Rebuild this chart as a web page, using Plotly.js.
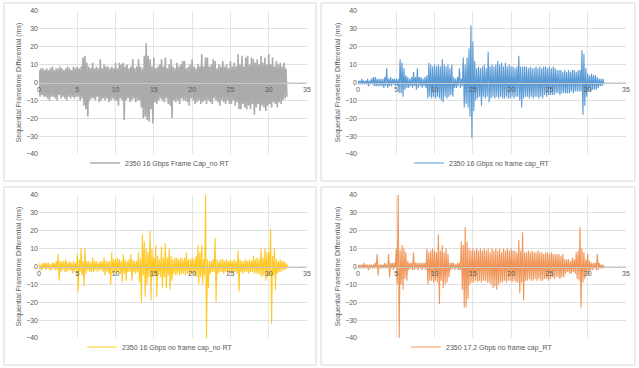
<!DOCTYPE html>
<html>
<head>
<meta charset="utf-8">
<script src="https://cdn.plot.ly/plotly-3.0.1.min.js"></script>
<style>html,body{margin:0;padding:0;background:#fff;}#chart{width:639px;height:368px;}</style>
</head>
<body>
<div id="chart"></div>
<script>
// Sample interval (seconds) between plotted points
const sampleStep = 0.125;

const seriesNames = [
  "2350 16 Gbps Frame Cap_no RT",
  "2350 16 Gbps no frame cap_RT",
  "2350 16 Gbps no frame cap_no RT",
  "2350 17.2 Gbps no frame cap_RT"
];

const xTickValues = [0, 5, 10, 15, 20, 25, 30, 35];
const yTickValues = [-40, -30, -20, -10, 0, 10, 20, 30, 40];

const grayValues = [
  7,-8,8,-7,8,-8,7,-8,
  8,-9,7,-10,8,-8,9,-8,
  7,-9,8,-10,8,-7,9,-9,
  8,-8,7,-9,8,-10,9,-8,
  8,-9,7,-8,9,-9,8,-8,
  9,-8,8,-10,9,-9,14,-13,
  15,-15,11,-19,9,-10,8,-9,
  11,-9,8,-10,9,-8,8,-11,
  13,-10,8,-9,10,-10,9,-9,
  9,-11,8,-10,9,-9,8,-10,
  11,-10,8,-13,11,-9,10,-10,
  11,-21,9,-10,10,-9,8,-11,
  9,-10,13,-9,8,-11,9,-10,
  13,-10,9,-14,8,-20,15,-19,
  22,-21,15,-22,13,-15,9,-23,
  14,-11,8,-12,9,-10,10,-9,
  13,-10,9,-11,14,-9,8,-12,
  10,-13,13,-20,9,-10,8,-11,
  11,-10,9,-12,10,-9,12,-10,
  12,-10,8,-11,9,-13,10,-9,
  13,-10,9,-12,8,-11,10,-10,
  9,-12,16,-11,9,-10,14,-12,
  14,-10,9,-11,10,-12,13,-9,
  12,-10,8,-11,10,-13,9,-10,
  12,-11,9,-12,10,-10,8,-12,
  12,-12,9,-10,11,-13,9,-11,
  16,-15,10,-15,15,-12,9,-14,
  14,-15,15,-13,10,-15,14,-12,
  13,-18,11,-14,13,-12,10,-16,
  15,-13,11,-14,14,-16,10,-13,
  16,-12,10,-14,14,-11,9,-12,
  12,-14,10,-11,11,-12,9,-10,
  11,-9,8,-8
];

const blueValues = [
  1,-1,1,-1,2,-1,1,-1,
  1,-1,2,-2,1,-1,2,-1,
  3,-2,3,-2,2,-2,2,-2,
  2,-2,2,-3,3,-2,8,-3,
  2,-2,3,-2,2,-1,2,-2,
  2,-2,2,-6,13,-6,11,-8,
  8,-4,4,-3,3,-3,2,-2,
  3,-3,6,-2,3,-4,8,-3,
  3,-2,3,-3,2,-2,3,-3,
  4,-9,11,-8,10,-9,9,-8,
  10,-9,9,-8,10,-9,9,-10,
  13,-11,10,-8,9,-9,10,-8,
  8,-7,10,-8,3,-3,2,-3,
  3,-2,8,-3,2,-2,14,-14,
  10,-12,14,-14,19,-19,32,-31,
  23,-16,12,-10,8,-9,9,-8,
  8,-13,9,-8,10,-9,8,-8,
  17,-11,9,-9,10,-8,9,-9,
  10,-8,12,-9,10,-8,11,-9,
  9,-9,11,-8,9,-9,10,-9,
  9,-8,9,-9,8,-8,9,-8,
  15,-10,9,-14,9,-9,9,-8,
  9,-8,8,-9,9,-8,8,-9,
  8,-8,9,-8,8,-9,9,-8,
  8,-9,9,-7,9,-8,8,-7,
  9,-7,8,-7,9,-7,8,-6,
  7,-6,7,-7,7,-6,6,-6,
  7,-6,6,-6,7,-6,6,-5,
  7,-6,7,-5,6,-5,7,-5,
  7,-5,18,-18,16,-13,8,-8,
  5,-5,4,-5,5,-4,4,-4,
  4,-4,3,-3,2,-2,2,-2,
  2,-1
];

const yellowValues = [
  2,-2,1,-2,2,-1,2,-2,
  2,-1,2,-2,1,-2,2,-1,
  2,-2,3,-2,7,-8,3,-3,
  3,-2,3,-3,4,-3,2,-2,
  3,-2,2,-4,3,-3,2,-2,
  7,-14,4,-3,10,-5,3,-11,
  10,-4,3,-2,3,-3,2,-3,
  5,-3,3,-2,3,-3,2,-2,
  3,-2,3,-3,5,-5,3,-3,
  3,-4,3,-10,8,-4,4,-3,
  4,-4,5,-3,4,-4,3,-9,
  7,-4,4,-8,3,-3,4,-3,
  7,-8,4,-3,3,-4,3,-3,
  8,-9,4,-20,18,-5,14,-17,
  10,-10,8,-6,20,-19,10,-6,
  5,-5,12,-17,6,-5,4,-6,
  11,-12,5,-6,13,-12,5,-5,
  10,-13,6,-8,4,-4,5,-5,
  5,-4,4,-5,5,-4,4,-4,
  5,-5,8,-4,4,-5,4,-4,
  5,-4,4,-5,6,-6,12,-10,
  8,-6,12,-10,4,-5,40,-40,
  4,-12,3,-4,3,-3,4,-3,
  16,-20,4,-4,3,-3,4,-3,
  4,-4,3,-3,4,-4,3,-3,
  4,-3,3,-4,4,-3,3,-4,
  9,-14,4,-3,3,-4,3,-3,
  4,-3,3,-4,4,-3,3,-3,
  6,-4,4,-4,5,-4,4,-5,
  10,-6,5,-5,10,-8,8,-6,
  8,-5,21,-32,6,-5,10,-13,
  4,-4,3,-3,4,-3,3,-2,
  3,-2,2,-1,1
];

const orangeValues = [
  1,-1,1,-1,1,-1,2,-1,
  1,-1,1,-2,1,-1,1,-1,
  1,-1,2,-1,7,-5,1,-1,
  1,-1,1,-1,2,-1,1,-1,
  7,-6,2,-1,2,-2,2,-1,
  10,-10,40,-40,9,-10,12,-13,
  10,-7,8,-8,3,-2,2,-1,
  2,-2,8,-2,2,-1,2,-2,
  2,-1,2,-2,2,-1,2,-2,
  10,-10,8,-8,9,-8,10,-9,
  9,-8,8,-9,18,-21,9,-8,
  12,-12,8,-10,10,-9,7,-6,
  2,-2,2,-1,2,-2,1,-1,
  2,-2,2,-2,14,-13,12,-23,
  22,-23,14,-18,10,-10,9,-9,
  10,-9,9,-8,10,-9,9,-8,
  10,-9,9,-8,10,-8,9,-9,
  10,-9,8,-10,10,-12,9,-11,
  10,-13,9,-10,10,-9,8,-9,
  10,-8,9,-9,10,-8,9,-8,
  10,-9,9,-8,9,-9,8,-9,
  15,-15,9,-9,19,-19,8,-8,
  8,-8,9,-7,8,-8,9,-8,
  8,-7,8,-8,9,-7,8,-8,
  8,-8,7,-7,8,-7,8,-8,
  7,-7,8,-6,7,-7,7,-6,
  7,-6,7,-7,6,-6,7,-6,
  4,-4,4,-3,4,-4,3,-4,
  5,-3,4,-4,8,-7,9,-8,
  22,-23,10,-9,8,-7,4,-3,
  7,-5,3,-2,2,-2,2,-1,
  2,-2,7,-2,2,-1,1,-1,
  1,-1
];

const allValues = [grayValues, blueValues, yellowValues, orangeValues];
const lineColors = ['#ABABAB', '#5B9BD5', 'rgba(255,192,0,0.85)', 'rgba(237,125,49,0.8)'];
const lineWidths = [1.6, 1.1, 1.1, 1.1];

const W = 639, H = 368;
// plot areas in pixels [left, right, top, bottom]
const areas = [
  [39, 307, 11, 154],
  [358, 626, 11, 154],
  [39, 307, 195, 338],
  [358, 626, 195, 338]
];
const frames = [
  [4, 316, 3, 181],
  [321, 635, 3, 181],
  [4, 316, 187, 365],
  [321, 635, 187, 365]
];
const legendPos = [[160, 163], [482, 163], [160, 347], [482, 347]];

const tickFont = {family: 'Liberation Sans, Arial, sans-serif', size: 7, color: '#595959'};
const traces = [];
const layout = {
  width: W, height: H,
  margin: {l: 0, r: 0, t: 0, b: 0},
  paper_bgcolor: '#fff', plot_bgcolor: '#fff',
  font: tickFont,
  shapes: [],
  showlegend: true
};

for (let i = 0; i < 4; i++) {
  const sfx = i === 0 ? '' : String(i + 1);
  const [l, r, t, b] = areas[i];
  const yd = [1 - b / H, 1 - t / H];
  traces.push({
    type: 'scatter', mode: 'lines',
    y: allValues[i], x0: 0, dx: sampleStep,
    name: seriesNames[i],
    xaxis: 'x' + sfx, yaxis: 'y' + sfx,
    legend: 'legend' + sfx,
    line: {color: lineColors[i], width: lineWidths[i]},
    hoverinfo: 'skip'
  });
  layout['xaxis' + sfx] = {
    domain: [l / W, r / W], range: [0, 35],
    tickvals: xTickValues, ticks: '',
    anchor: 'free', position: (yd[0] + yd[1]) / 2,
    showline: true, linecolor: '#C8C8C8', linewidth: 1,
    showgrid: true, gridcolor: '#E6E6E6', gridwidth: 1,
    zeroline: false, tickfont: tickFont, fixedrange: true
  };
  layout['yaxis' + sfx] = {
    domain: yd, range: [-40, 40],
    tickvals: yTickValues, ticks: '',
    anchor: 'x' + sfx,
    showline: false, showgrid: true, gridcolor: '#E0E0E0', gridwidth: 1,
    zeroline: false, tickfont: tickFont, fixedrange: true,
    title: {text: 'Sequential Frametime Differential (ms)', font: tickFont, standoff: 3}
  };
  layout['legend' + sfx] = {
    x: legendPos[i][0] / W, y: 1 - legendPos[i][1] / H,
    xanchor: 'center', yanchor: 'middle',
    orientation: 'h', bgcolor: 'rgba(0,0,0,0)',
    font: {family: 'Liberation Sans, Arial, sans-serif', size: 7, color: '#595959'},
    itemwidth: 30
  };
  const [fl, fr, ft, fb] = frames[i];
  layout.shapes.push({
    type: 'rect', xref: 'paper', yref: 'paper',
    x0: fl / W, x1: fr / W, y0: 1 - fb / H, y1: 1 - ft / H,
    line: {color: '#D9D9D9', width: 1}, fillcolor: 'rgba(0,0,0,0)', layer: 'below'
  });
}

Plotly.newPlot('chart', traces, layout, {staticPlot: true, displayModeBar: false});
</script>
</body>
</html>
